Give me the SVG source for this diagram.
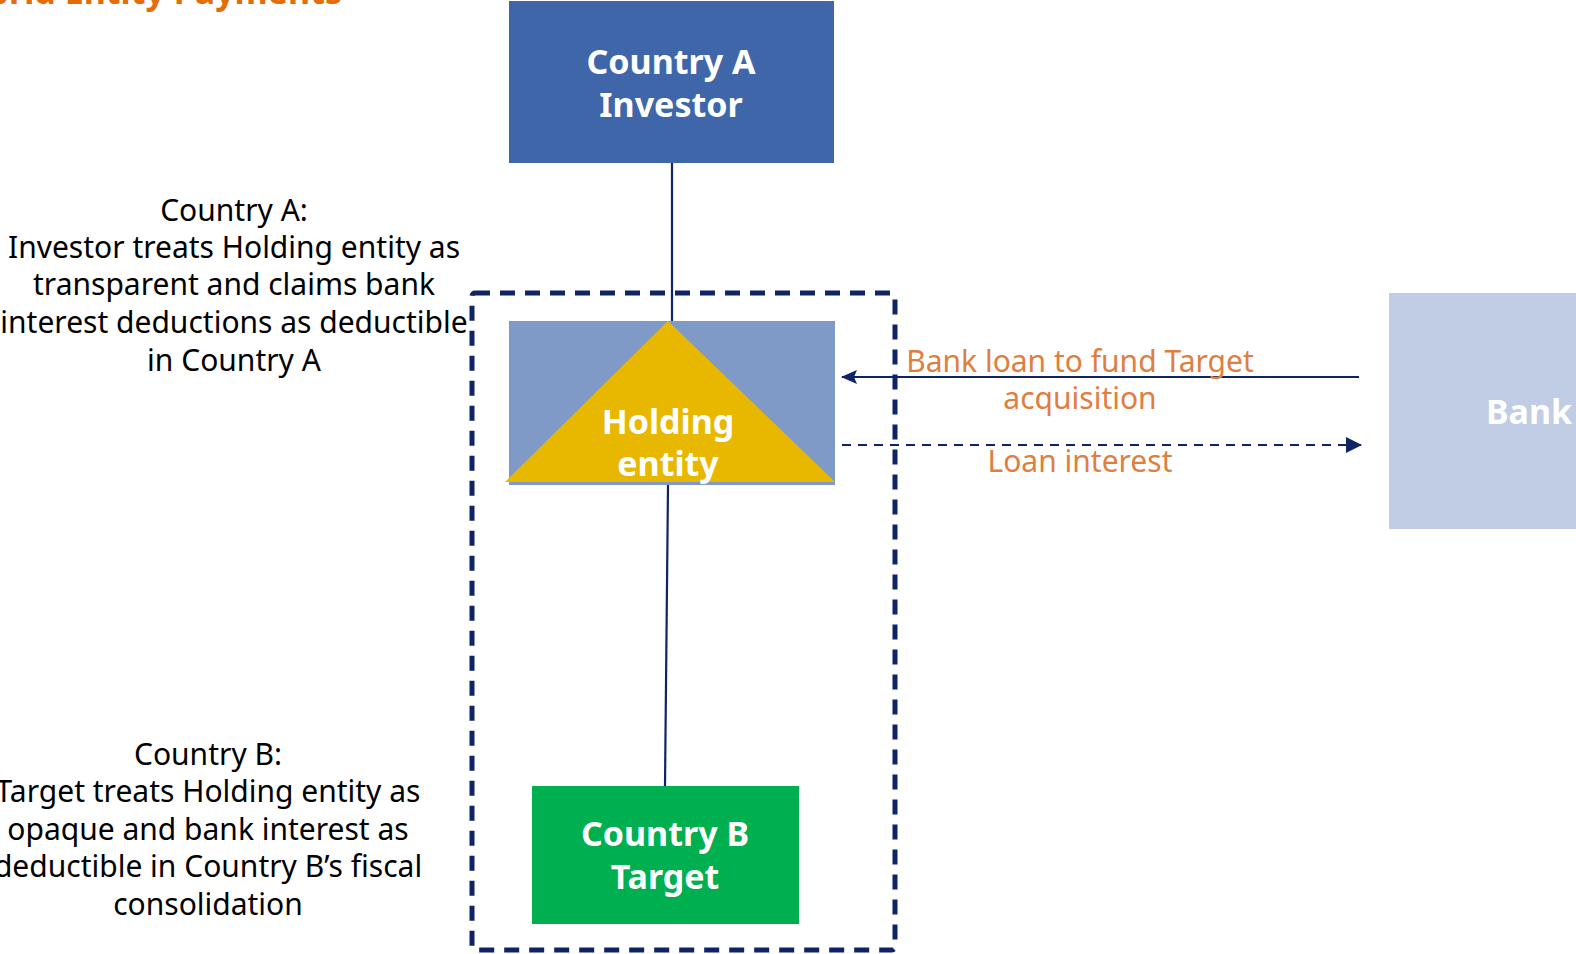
<svg xmlns="http://www.w3.org/2000/svg" width="1576" height="954" viewBox="0 0 1576 954">
<defs>
<style>
.t{font-family:"Noto Sans","DejaVu Sans",sans-serif;}
.w{fill:#fff;font-weight:bold;font-size:34px;text-anchor:middle;}
.b{fill:#000;font-size:30px;text-anchor:middle;}
.o{fill:#DF7E3E;font-size:30px;text-anchor:middle;}
.ln{stroke:#0E2466;stroke-width:2.2;fill:none;}
</style>
<marker id="ahs" viewBox="0 0 16 14" refX="15" refY="7" markerWidth="16" markerHeight="14" orient="auto" markerUnits="userSpaceOnUse">
<path d="M0,0 L16,7 L0,14 L3,7 z" fill="#0E2466"/>
</marker>
<marker id="ahd" viewBox="0 0 16 16" refX="15" refY="8" markerWidth="16" markerHeight="16" orient="auto" markerUnits="userSpaceOnUse">
<path d="M0,0 L16,8 L0,16 z" fill="#0E2466"/>
</marker>
</defs>
<rect width="1576" height="954" fill="#fff"/>
<text class="t" x="342" y="4" font-size="34" font-weight="bold" fill="#E46C0A" text-anchor="end">Hybrid Entity Payments</text>

<g id="connectors">
<line class="ln" x1="672" y1="163" x2="672" y2="321"/>
<line class="ln" x1="668" y1="485" x2="665" y2="786"/>
<line class="ln" x1="1359" y1="377" x2="842" y2="377" marker-end="url(#ahs)"/>
<line class="ln" x1="842" y1="445" x2="1361" y2="445" stroke-dasharray="9,7" marker-end="url(#ahd)"/>
</g>

<g id="boundary">
<rect x="472" y="293" width="423" height="657" rx="3" fill="none" stroke="#0E2466" stroke-width="5" stroke-dasharray="15,10"/>
</g>

<g id="investor">
<rect x="509" y="1" width="325" height="162" fill="#4066AA"/>
<text class="t w" x="671" y="74">Country A</text>
<text class="t w" x="671" y="117">Investor</text>
</g>

<g id="holding">
<rect x="509" y="321" width="326" height="164" fill="#7F9AC7"/>
<polygon points="668,321 835,482 505,482" fill="#E8B800"/>
<text class="t w" x="668" y="434">Holding</text>
<text class="t w" x="668" y="476">entity</text>
</g>

<g id="target">
<rect x="532" y="786" width="267" height="138" fill="#00B050"/>
<text class="t w" x="665" y="846">Country B</text>
<text class="t w" x="665" y="889">Target</text>
</g>

<g id="bank">
<rect x="1389" y="293" width="190" height="236" fill="#C0CDE4"/>
<text class="t w" x="1486" y="424" style="text-anchor:start">Bank</text>
</g>

<g id="labels">
<text class="t o" x="1080" y="372">Bank loan to fund Target</text>
<text class="t o" x="1080" y="409">acquisition</text>
<text class="t o" x="1080" y="472">Loan interest</text>
</g>

<g id="noteA">
<text class="t b" x="234" y="221">Country A:</text>
<text class="t b" x="234" y="258">Investor treats Holding entity as</text>
<text class="t b" x="234" y="295">transparent and claims bank</text>
<text class="t b" x="234" y="333">interest deductions as deductible</text>
<text class="t b" x="234" y="371">in Country A</text>
</g>

<g id="noteB">
<text class="t b" x="208" y="765">Country B:</text>
<text class="t b" x="208" y="802">Target treats Holding entity as</text>
<text class="t b" x="208" y="840">opaque and bank interest as</text>
<text class="t b" x="208" y="877">deductible in Country B’s fiscal</text>
<text class="t b" x="208" y="915">consolidation</text>
</g>
</svg>
